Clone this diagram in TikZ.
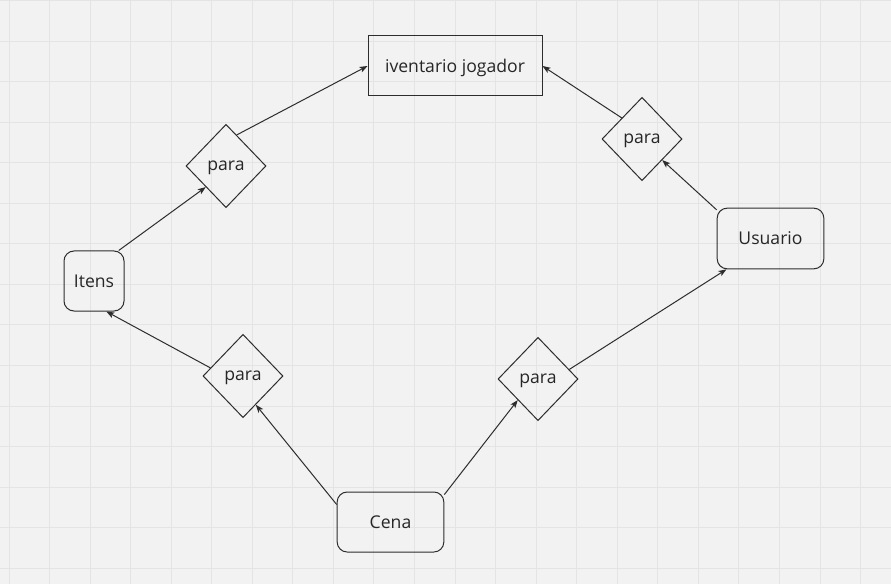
\documentclass[tikz,border=0pt]{standalone}
\usepackage{fontspec}
\setmainfont{Open Sans}
\usepackage{tikz}
\usetikzlibrary{arrows.meta}
\usetikzlibrary{shapes.geometric}
\definecolor{bgpaper}{RGB}{242,242,242}
\definecolor{gridline}{RGB}{228,228,228}
\definecolor{inkline}{RGB}{45,45,45}
\begin{document}
\begin{tikzpicture}[x=0.75pt,y=0.75pt,yscale=-1,
    font=\fontsize{13.2}{16}\selectfont,
    entity/.style={draw=inkline,line width=0.75pt,rounded corners=7.5pt,inner sep=0pt,text depth=0pt,text=black!85},
    relation/.style={draw=inkline,line width=0.75pt,diamond,aspect=1,inner sep=0pt,text depth=0pt,minimum width=60pt,minimum height=62.5pt,text=black!85},
    link/.style={draw=inkline,line width=0.75pt,-{Stealth[length=6pt,width=4.5pt,inset=1.5pt]}}]
        \useasboundingbox (0,0) rectangle (891,584);
        % background and grid
        \fill[bgpaper] (0,0) rectangle (891,584);
        \foreach \i in {0,...,21} {
            \draw[gridline,line width=0.75pt] ({9+40.55*\i},0) -- ({9+40.55*\i},584);
        }
        \foreach \j in {0,...,14} {
            \draw[gridline,line width=0.75pt] (0,{0.5+40.55*\j}) -- (891,{0.5+40.55*\j});
        }

        % Entities
        \node[entity,rounded corners=0pt,minimum width=130.5pt,minimum height=45pt] (inventario) at (455,66) {iventario jogador};
        \node[entity,minimum width=45pt,minimum height=45pt] (itens) at (94,281) {Itens};
        \node[entity,minimum width=80pt,minimum height=45pt] (cena) at (390.5,522) {Cena};
        \node[entity,minimum width=80pt,minimum height=45.5pt] (usuario) at (770.5,238.5) {Usuario};

        % Relations
        \node[relation] (paraItens) at (226,166) {para};
        \node[relation] (paraCenaItens) at (243,376) {para};
        \node[relation] (paraCenaUsuario) at (538,379) {para};
        \node[relation] (paraUsuario) at (642,139) {para};

        % Connectors
        \draw[link] (itens.51) -- (paraItens.south west);
        \draw[link] (paraItens.71) -- (inventario.west);
        \draw[link] (cena.162) -- (paraCenaItens.294);
        \draw[link] (paraCenaItens.166) -- (itens.292);
        \draw[link] (cena.27) -- (paraCenaUsuario.south west);
        \draw[link] (paraCenaUsuario.17) -- (usuario.215);
        \draw[link] (usuario.152) -- (paraUsuario.south east);
        \draw[link] (paraUsuario.north west) -- (inventario.east);
\end{tikzpicture}
\end{document}
